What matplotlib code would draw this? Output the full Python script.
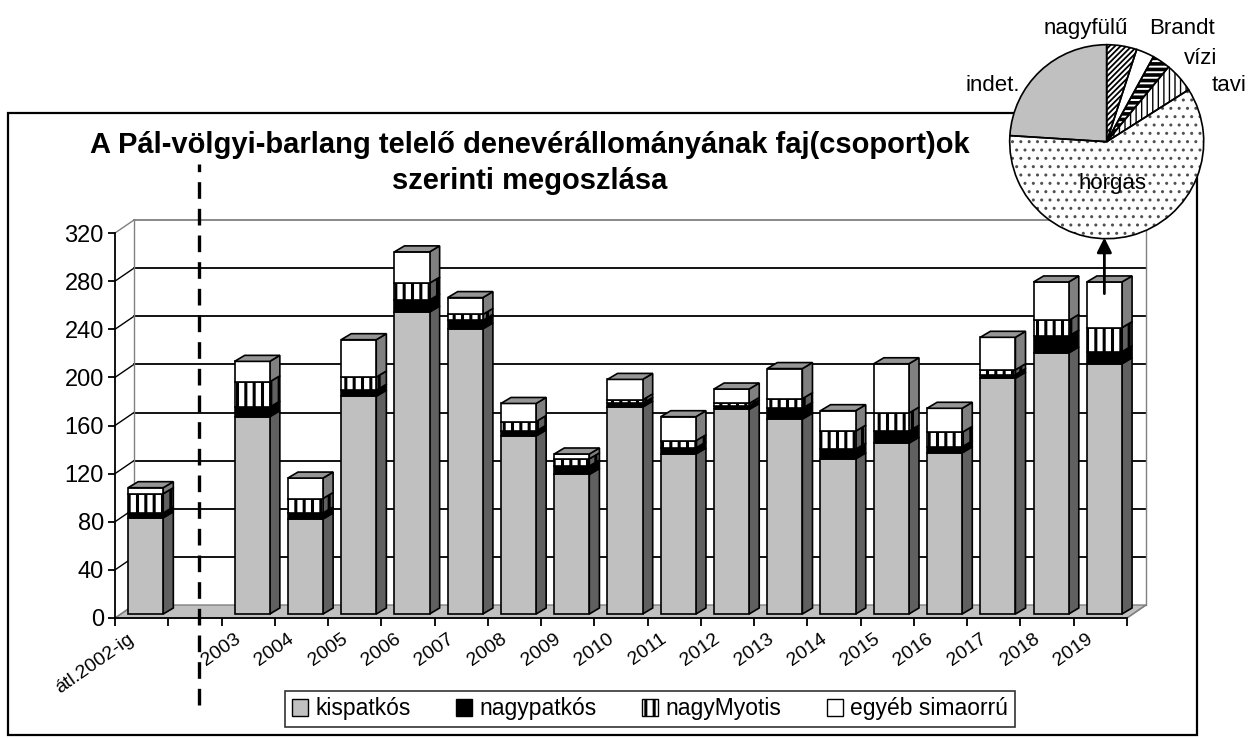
import numpy as np
import matplotlib.pyplot as plt
import matplotlib.transforms as mtransforms
from matplotlib.patches import Polygon, Rectangle, Patch

plt.rcParams['font.family'] = ['Liberation Sans', 'DejaVu Sans']
plt.rcParams['hatch.linewidth'] = 2.2

# data (the blank slot is the gap before 2003)
categories = ['átl.2002-ig', ''] + [str(y) for y in range(2003, 2020)]
kispatkos = [80, np.nan, 164, 79, 181, 251, 237, 148, 116, 172, 133, 170, 162, 129, 142, 134, 196, 217, 208]
nagypatkos = [4, np.nan, 8, 5, 5, 10, 7, 4, 7, 3, 5, 3, 9, 8, 10, 5, 3, 14, 10]
nagymyotis = [16, np.nan, 21, 12, 11, 14, 5, 8, 6, 3, 6, 2, 8, 15, 15, 12, 4, 13, 20]
egyeb = [5, np.nan, 17, 17, 31, 26, 14, 15, 4, 17, 20, 12, 25, 17, 41, 20, 27, 32, 38]
series_names = ['kispatkós', 'nagypatkós', 'nagyMyotis', 'egyéb simaorrú']

pie_labels = ['nagyfülű', 'Brandt', 'vízi', 'tavi', 'horgas', 'indet.']
pie_values = [5, 3, 3, 5, 60, 24]

title = 'A Pál-völgyi-barlang telelő denevérállományának faj(csoport)ok\nszerinti megoszlása'

# face colour, side colour, hatch
styles = [('#c0c0c0', '#606060', None),
          ('black', 'black', None),
          ('white', '#606060', '||'),
          ('white', '#808080', None)]
top_color = '#969696'

ymax = 320
depth_x, depth_y = 0.357, 10.8    # back wall offset (data units)
front_x, front_y = 0.075, 3.3     # bars stand a little behind the front plane
side_x, side_y = 0.19, 5.0        # depth of a bar
bar_w = 0.66


def set_hatch_lw(p, lw):
    if hasattr(p, 'set_hatch_linewidth'):
        p.set_hatch_linewidth(lw)


fig = plt.figure(figsize=(12.51, 7.38), dpi=100)
ax = fig.add_axes([115 / 1251, 120 / 738, 1012 / 1251, 385 / 738])
n = len(categories)
ax.set_xlim(-0.5, n - 0.5)
ax.set_ylim(0, ymax)
for s in ax.spines.values():
    s.set_visible(False)
ax.patch.set_visible(False)

x0, x1 = -0.5, n - 0.5
# floor
ax.add_patch(Polygon([(x0, 0), (x1, 0), (x1 + depth_x, depth_y), (x0 + depth_x, depth_y)],
                     closed=True, facecolor='#c0c0c0', edgecolor='#808080', lw=1, zorder=1, clip_on=False))
# back wall gridlines and left wall diagonals
for v in range(0, ymax + 1, 40):
    col = '#808080' if v in (0, ymax) else 'black'
    ax.plot([x0, x0 + depth_x], [v, v + depth_y], color=col, lw=1, zorder=1, clip_on=False)
    if v > 0:
        ax.plot([x0 + depth_x, x1 + depth_x], [v + depth_y, v + depth_y], color=col, lw=1.3,
                zorder=1, clip_on=False)
ax.plot([x0 + depth_x, x0 + depth_x], [depth_y, ymax + depth_y], color='#808080', lw=1, zorder=1, clip_on=False)
ax.plot([x1 + depth_x, x1 + depth_x], [depth_y, ymax + depth_y], color='#808080', lw=1, zorder=1, clip_on=False)
ax.plot([x1, x1 + depth_x], [0, depth_y], color='#808080', lw=1, zorder=1, clip_on=False)

# stacked pseudo-3D bars
data = [kispatkos, nagypatkos, nagymyotis, egyeb]
for i in range(n):
    if np.isnan(kispatkos[i]):
        continue
    left = i - bar_w / 2 + front_x
    right = left + bar_w
    base = front_y
    for k, vals in enumerate(data):
        face, side, hatch = styles[k]
        top = base + vals[i]
        ax.add_patch(Polygon([(right, base), (right + side_x, base + side_y), (right + side_x, top + side_y), (right, top)],
                             closed=True, facecolor=side, edgecolor='black', hatch=hatch, lw=1.2, zorder=3, clip_on=False))
        ax.add_patch(Rectangle((left, base), bar_w, vals[i], facecolor=face, edgecolor='black',
                               hatch=hatch, lw=1.2, zorder=3, clip_on=False))
        base = top
    ax.add_patch(Polygon([(left, base), (right, base), (right + side_x, base + side_y), (left + side_x, base + side_y)],
                         closed=True, facecolor=top_color, edgecolor='black', lw=1.2, zorder=3, clip_on=False))

# front axes lines
ax.plot([x0, x0], [0, ymax], color='black', lw=1.3, zorder=4, clip_on=False)
ax.plot([x0, x1], [0, 0], color='black', lw=1.3, zorder=4, clip_on=False)
ax.set_yticks(range(0, ymax + 1, 40))
ax.tick_params(axis='y', length=5, width=1.3, pad=3, labelsize=17, direction='out')
ax.set_xticks(range(n))
ax.set_xticklabels(categories, rotation=35, ha='right', va='top', rotation_mode='anchor', fontsize=14)
ax.tick_params(axis='x', length=0, pad=9)
shift = mtransforms.ScaledTranslation(-14 / 100, 0, fig.dpi_scale_trans)
for lab in ax.get_xticklabels():
    lab.set_transform(lab.get_transform() + shift)
ax.set_xticks(np.arange(-0.5, n, 1), minor=True)
ax.tick_params(axis='x', which='minor', length=6, width=1.3, direction='out')

# separator between average and yearly counts
ax.plot([1 + front_x, 1 + front_x], [-72, 377], color='black', lw=2.4, ls=(0, (5, 3)), zorder=5, clip_on=False)

# arrow to the pie
last = len(categories) - 1
tot = kispatkos[last] + nagypatkos[last] + nagymyotis[last] + egyeb[last] + front_y
ax.annotate('', xy=(last + front_x, 318.5), xytext=(last + front_x, tot - 12),
            arrowprops=dict(arrowstyle='-|>', color='black', lw=2, mutation_scale=22), zorder=6,
            annotation_clip=False)

fig.text(530 / 1251, 1 - 163 / 738, title, ha='center', va='center', fontsize=21, fontweight='bold',
         linespacing=1.4)

# legend
handles = [Patch(facecolor=s[0], edgecolor='black', hatch=s[2], lw=1) for s in styles]
leg = fig.legend(handles, series_names, loc='center', bbox_to_anchor=(650 / 1251, 1 - 709 / 738), ncol=4,
                 fontsize=16.5, frameon=True, fancybox=False, handlelength=0.7, handleheight=0.7,
                 handletextpad=0.3, columnspacing=2.0, borderpad=0.3)
leg.get_frame().set_edgecolor('black')
leg.get_frame().set_linewidth(1.2)

# outer chart border
fig.add_artist(Rectangle((8 / 1251, 3 / 738), 1189 / 1251, 622 / 738, transform=fig.transFigure,
                         fill=False, edgecolor='black', lw=1.6, zorder=0))

# pie inset
r = 97
cx, cy = 1106.7, 738 - 141.7
pax = fig.add_axes([(cx - r) / 1251, (cy - r) / 738, 2 * r / 1251, 2 * r / 738])
pax.set_zorder(10)
pie_faces = ['white', 'white', 'white', 'white', 'white', '#c0c0c0']
pie_hatches = ['//////', None, '---', '|||', '..', None]
pie_hatch_colors = ['black', 'black', 'black', 'black', '#505050', 'black']
pie_hatch_lw = [1.3, 1, 2.6, 1.0, 1.0, 1]
wedges, _ = pax.pie(pie_values, startangle=90, counterclock=False, colors=pie_faces, radius=1,
                    wedgeprops=dict(linewidth=0))
for w, h, hc, hl in zip(wedges, pie_hatches, pie_hatch_colors, pie_hatch_lw):
    w.set_edgecolor(hc)
    if h:
        w.set_hatch(h)
        set_hatch_lw(w, hl)
pax.pie(pie_values, startangle=90, counterclock=False, radius=1,
        wedgeprops=dict(fill=False, edgecolor='black', linewidth=1.2))
pax.set_xlim(-1, 1)
pax.set_ylim(-1, 1)
pax.set_aspect('auto')
pax.axis('off')
label_pos = [(-0.22, 1.17), (0.78, 1.17), (0.97, 0.86), (1.26, 0.58), (0.06, -0.43), (-1.17, 0.58)]
for lab, (lx, ly) in zip(pie_labels, label_pos):
    pax.text(lx, ly, lab, ha='center', va='center', fontsize=16, clip_on=False)

fig.savefig('out.png', dpi=100)
